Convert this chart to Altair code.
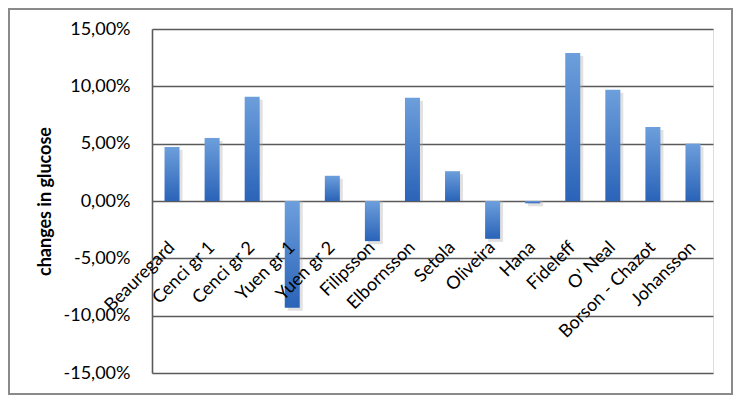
import altair as alt
import pandas as pd

categories = ["Beauregard", "Cenci gr 1", "Cenci gr 2", "Yuen gr 1", "Yuen gr 2",
              "Filipsson", "Elbornsson", "Setola", "Oliveira", "Hana",
              "Fideleff", "O\u2019 Neal", "Borson - Chazot", "Johansson"]
changes = [4.7, 5.5, 9.1, -9.3, 2.2, -3.5, 9.0, 2.6, -3.3, -0.2, 12.9, 9.7, 6.45, 5.0]
y_ticks = [-15, -10, -5, 0, 5, 10, 15]

df = pd.DataFrame({"study": categories, "change": changes})

W, H = 561, 344
PL, PT, PR, PB = 144, 21, 20, 22

x_enc = alt.X("study:N", sort=None, axis=None,
              scale=alt.Scale(paddingInner=0, paddingOuter=0))
y_scale = alt.Scale(domain=[-15, 15], nice=False)

grad = alt.Gradient(
    gradient="linear",
    stops=[alt.GradientStop(color="#6d9fdc", offset=0),
           alt.GradientStop(color="#2a63b8", offset=1)],
    x1=0, x2=0, y1=0, y2=1,
)

base = alt.Chart(df)

shadow = base.mark_bar(size=15, color="#a8a8a8", opacity=0.35, xOffset=3, yOffset=3).encode(
    x=x_enc,
    y=alt.Y("change:Q", scale=y_scale),
    y2=alt.datum(0),
)

bars = base.mark_bar(size=15, color=grad).encode(
    x=x_enc,
    y=alt.Y("change:Q", scale=y_scale,
            axis=alt.Axis(values=y_ticks, grid=True, gridColor="#5a5a5a", gridWidth=1.6,
                          domain=True, domainColor="#5a5a5a", domainWidth=1.6,
                          ticks=False, labelPadding=22, labelFontSize=18, labelFont="Lato",
                          labelColor="#000000",
                          labelExpr="replace(replace(format(datum.value, '.2f'), '.', ','), '\u2212', '-') + '%'",
                          title="changes in glucose", titleFont="Lato", titleFontSize=18,
                          titleFontWeight="bold", titleColor="#000000", titlePadding=9)),
    y2=alt.datum(0),
)

labels = base.mark_text(angle=315, align="right", baseline="middle",
                        xOffset=0, yOffset=44,
                        fontSize=18, font="Lato", color="#000000").encode(
    x=x_enc,
    y=alt.datum(0),
    text="study:N",
)

frame = alt.Chart(pd.DataFrame({"k": [0]})).mark_rect(
    fill=None, stroke="#8a8a8a", strokeWidth=2
).encode(
    x=alt.value(-PL + 1), x2=alt.value(W + PR - 1),
    y=alt.value(-PT + 1), y2=alt.value(H + PB - 1),
)

chart = alt.layer(shadow, bars, labels, frame).properties(
    width=W, height=H,
    padding={"left": PL, "top": PT, "right": PR, "bottom": PB},
    autosize=alt.AutoSizeParams(type="none"),
).configure_view(stroke=None).configure(background="white")

chart.save("out.html", embed_options={"renderer": "svg", "actions": False})
